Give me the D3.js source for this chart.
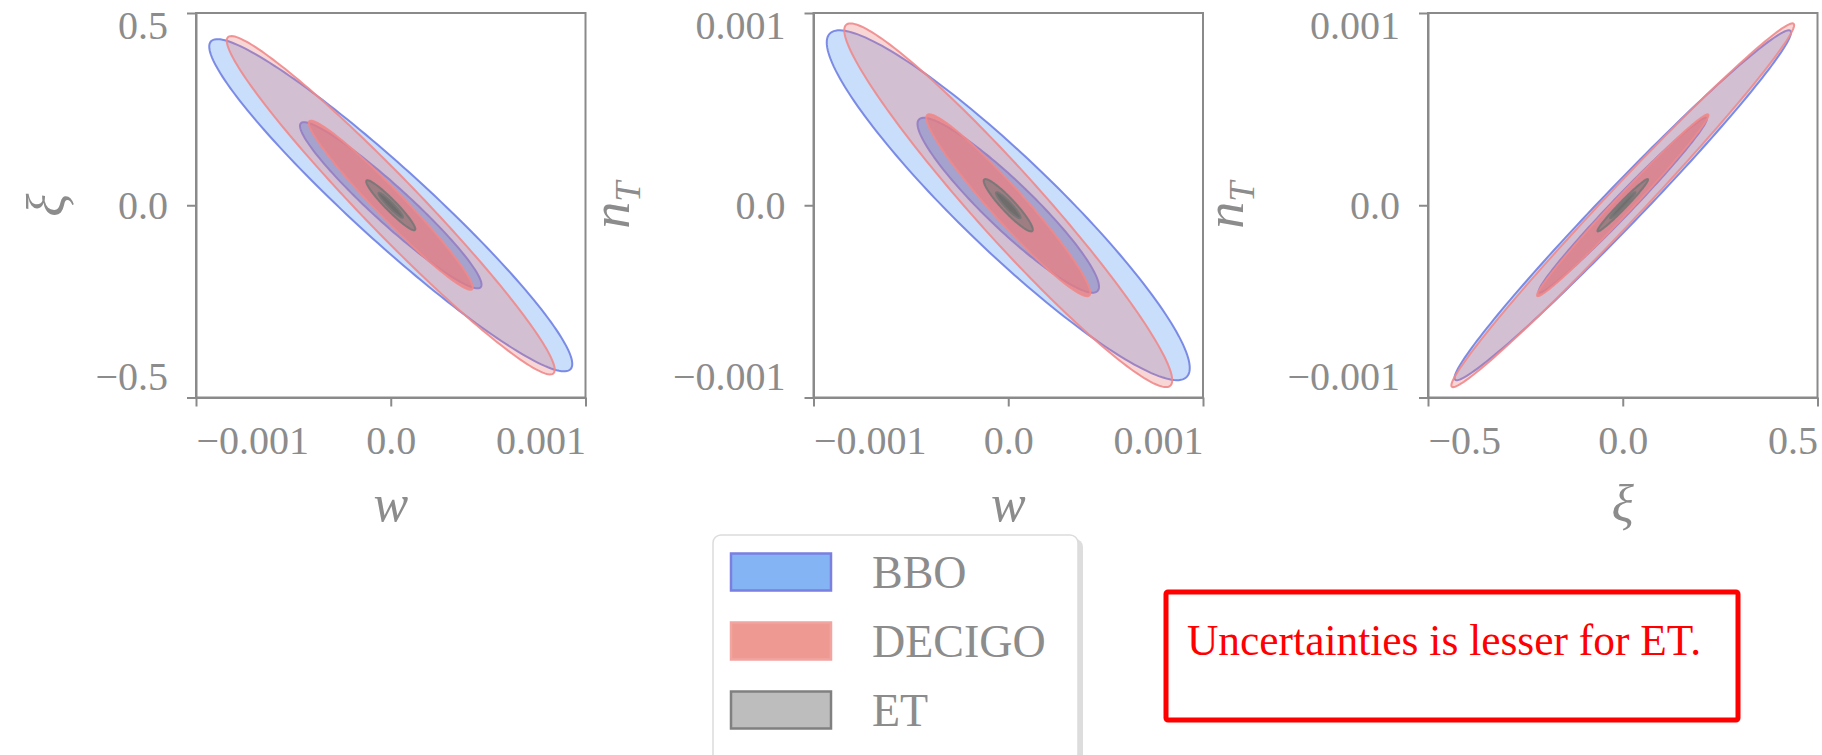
<!DOCTYPE html>
<html>
<head>
<meta charset="utf-8">
<script src="https://cdn.jsdelivr.net/npm/d3@7"></script>
<style>
  body { margin: 0; background: #fff; }
  svg { display: block; }
</style>
</head>
<body>
<div id="graph"></div>
<script>
// ------DATA------
const detectors = ["BBO", "DECIGO", "ET"]
// 1-sigma errors (outer contour is the 2-sigma one)
const sigmaW  = [0.000466, 0.000421, 0.000063]
const sigmaXi = [0.216, 0.220, 0.0325]
const sigmaNT = [0.000455, 0.000473, 0.000068]
// correlation coefficients for each parameter pair
const rhoWXi  = [-0.955, -0.972, -0.95]
const rhoWNT  = [-0.93, -0.962, -0.93]
const rhoXiNT = [0.987, 0.99, 0.98]
// contour levels in sigma, outer one first
const contourLevels = [2, 1]

// tick values and their labels
const wTicks = [-0.001, 0, 0.001]
const wTickLabels = ["\u22120.001", "0.0", "0.001"]
const xiTicks = [-0.5, 0, 0.5]
const xiTickLabels = ["\u22120.5", "0.0", "0.5"]
const nTTicks = [-0.001, 0, 0.001]
const nTTickLabels = ["\u22120.001", "0.0", "0.001"]

// panels: which parameter goes on x and y
const panelX = ["w", "w", "xi"]
const panelY = ["xi", "nT", "nT"]

const noteText = "Uncertainties is lesser for ET."

// ------SETUP------
const params = {
  w:  { sigma: sigmaW,  ticks: wTicks,  labels: wTickLabels },
  xi: { sigma: sigmaXi, ticks: xiTicks, labels: xiTickLabels },
  nT: { sigma: sigmaNT, ticks: nTTicks, labels: nTTickLabels }
}
const rho = { "w-xi": rhoWXi, "w-nT": rhoWNT, "xi-nT": rhoXiNT }

const width = 1822, height = 755
const axisColor = "#8a8a8a"
const textColor = "#8c8c8c"
const serif = "'Liberation Serif', 'DejaVu Serif', serif"

// panel layout
const panelLeft = [196, 813.5, 1428]
const panelTop = 13
const pw = 389.5, ph = 384.5
const yLabelOffset = [147, 201, 201]

const fills = {
  BBO:    ["rgba(100,160,240,0.35)", "rgba(100,160,240,0.65)"],
  DECIGO: ["rgba(235,120,120,0.30)", "rgba(235,125,125,0.72)"],
  ET:     ["rgba(120,120,120,0.6)", "rgba(105,105,105,0.85)"]
}
const strokes = { BBO: "#6f7fe3", DECIGO: "#f0888a", ET: "#777777" }
const swatch = {
  BBO:    { fill: "#84b4f4", stroke: "#7a7fe0" },
  DECIGO: { fill: "#ee9a92", stroke: "#f2a4a0" },
  ET:     { fill: "#bdbdbd", stroke: "#808080" }
}

const svg = d3.select("#graph").append("svg")
  .attr("width", width).attr("height", height)
  .attr("viewBox", `0 0 ${width} ${height}`)

const line = d3.line().curve(d3.curveLinearClosed)

// ------PANELS------
panelX.forEach((xp, i) => {
  const yp = panelY[i]
  const px = params[xp], py = params[yp]
  const r = rho[`${xp}-${yp}`]

  const xScale = d3.scaleLinear().domain(d3.extent(px.ticks)).range([0, pw])
  const yScale = d3.scaleLinear().domain(d3.extent(py.ticks)).range([ph, 0])

  const g = svg.append("g").attr("transform", `translate(${panelLeft[i]}, ${panelTop})`)

  // contours: each detector, outer then inner
  detectors.forEach((det, d) => {
    const sx = px.sigma[d], sy = py.sigma[d], c = r[d]
    contourLevels.forEach((k, li) => {
      const pts = d3.range(0, 360, 2).map(deg => {
        const t = deg * Math.PI / 180
        const x = k * sx * Math.cos(t)
        const y = k * sy * (c * Math.cos(t) + Math.sqrt(1 - c * c) * Math.sin(t))
        return [xScale(x), yScale(y)]
      })
      g.append("path")
        .attr("d", line(pts))
        .attr("fill", fills[det][li])
        .attr("stroke", strokes[det])
        .attr("stroke-width", 2)
        .attr("stroke-opacity", 0.9)
    })
  })

  // frame
  g.append("rect")
    .attr("width", pw).attr("height", ph)
    .attr("fill", "none").attr("stroke", axisColor).attr("stroke-width", 2)

  // x axis
  const xAxis = g.append("g").attr("transform", `translate(0, ${ph})`)
    .call(d3.axisBottom(xScale).tickValues(px.ticks).tickSize(9).tickSizeOuter(0)
      .tickFormat((v, j) => px.labels[j]))
  xAxis.select(".domain").attr("stroke", axisColor).attr("stroke-width", 2)
  xAxis.selectAll(".tick line").attr("stroke", axisColor).attr("stroke-width", 2)
  xAxis.selectAll(".tick text")
    .attr("fill", textColor).style("font-family", serif).style("font-size", "40px")
    .attr("y", 56).attr("dy", 0)
    .attr("text-anchor", (v, j) => j === 0 ? "start" : (j === px.ticks.length - 1 ? "end" : "middle"))

  // y axis
  const yAxis = g.append("g")
    .call(d3.axisLeft(yScale).tickValues(py.ticks).tickSize(9).tickSizeOuter(0)
      .tickFormat((v, j) => py.labels[j]))
  yAxis.select(".domain").attr("stroke", axisColor).attr("stroke-width", 2)
  yAxis.selectAll(".tick line").attr("stroke", axisColor).attr("stroke-width", 2)
  yAxis.selectAll(".tick text")
    .attr("fill", textColor).style("font-family", serif).style("font-size", "40px")
    .attr("x", -28)
    .attr("dy", (v, j) => j === 0 ? "-8px" : (j === py.ticks.length - 1 ? "25px" : "0.32em"))

  // axis labels
  const xl = g.append("text")
    .attr("x", pw / 2).attr("y", 508)
    .attr("text-anchor", "middle")
    .attr("fill", textColor).style("font-family", serif).style("font-size", "52px")
    .style("font-style", "italic")
  xl.text(xp === "w" ? "w" : "\u03be")

  const yl = g.append("text")
    .attr("transform", `translate(${-yLabelOffset[i]}, ${ph / 2}) rotate(-90)`)
    .attr("text-anchor", "middle").attr("dy", "0.3em")
    .attr("fill", textColor).style("font-family", serif).style("font-size", "54px")
    .style("font-style", "italic")
  if (yp === "xi") {
    yl.text("\u03be")
  } else {
    yl.append("tspan").text("n")
    yl.append("tspan").attr("dy", "0.3em").style("font-size", "36px").text("T")
  }
})

// ------LEGEND------
const legend = svg.append("g")
legend.append("rect")
  .attr("x", 718).attr("y", 539).attr("width", 365).attr("height", 240).attr("rx", 8)
  .attr("fill", "#cfcfcf").attr("opacity", 0.7)
legend.append("rect")
  .attr("x", 713).attr("y", 535).attr("width", 365).attr("height", 240).attr("rx", 8)
  .attr("fill", "#fff").attr("stroke", "#dcdcdc").attr("stroke-width", 1.5)

const legendY = d3.scalePoint().domain(detectors).range([572, 710])
detectors.forEach(det => {
  legend.append("rect")
    .attr("x", 731).attr("y", legendY(det) - 18.5).attr("width", 100).attr("height", 37)
    .attr("fill", swatch[det].fill).attr("stroke", swatch[det].stroke).attr("stroke-width", 2.5)
  legend.append("text")
    .attr("x", 872).attr("y", legendY(det)).attr("dy", "0.35em")
    .attr("fill", textColor).style("font-family", serif).style("font-size", "46px")
    .text(det)
})

// ------NOTE BOX------
svg.append("rect")
  .attr("x", 1166).attr("y", 592).attr("width", 572).attr("height", 128).attr("rx", 2)
  .attr("fill", "none").attr("stroke", "#ff0000").attr("stroke-width", 5)
svg.append("text")
  .attr("x", 1187).attr("y", 655)
  .attr("fill", "#ff0000").style("font-family", serif).style("font-size", "45px")
  .attr("textLength", 514).attr("lengthAdjust", "spacingAndGlyphs")
  .text(noteText)
</script>
</body>
</html>
